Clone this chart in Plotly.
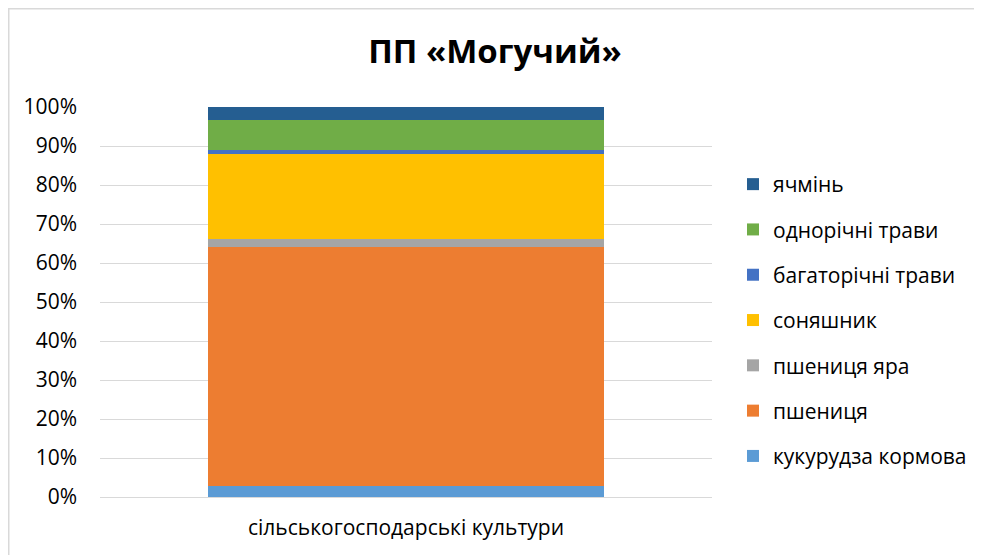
import plotly.graph_objects as go

categories = ["сільськогосподарські культури"]
series_names = ["кукурудза кормова", "пшениця", "пшениця яра", "соняшник",
                "багаторічні трави", "однорічні трави", "ячмінь"]
series_values = [2.8, 61.2, 2.1, 21.8, 1.0, 7.7, 3.4]
series_colors = ["#5B9BD5", "#ED7D31", "#A5A5A5", "#FFC000",
                 "#4472C4", "#70AD47", "#255E91"]
title_text = "ПП «Могучий»"

FONT = "Open Sans"
L, R, T, B = 92, 704, 99, 489
W, H = 982, 555
PW, PH = R - L, B - T

fig = go.Figure()
n = len(series_names)
for i, (name, val, col) in enumerate(zip(series_names, series_values, series_colors)):
    fig.add_trace(go.Bar(
        x=categories, y=[val], name=name, marker=dict(color=col, line=dict(width=0)),
        legendgroup=f"g{i}", legendrank=n - i,
    ))

fig.update_layout(
    barmode="stack", barnorm="fraction", bargap=0.353,
    width=W, height=H,
    margin=dict(l=L, r=W - R, t=T, b=H - B),
    paper_bgcolor="white", plot_bgcolor="white",
    font=dict(family=FONT, size=20, color="#000000"),
    title=dict(text=title_text, x=487 / W, xanchor="center",
               y=1 - 43 / H, yanchor="middle",
               font=dict(family=FONT, size=33, color="#000000", weight="bold")),
    legend=dict(x=(725 - L) / PW, xanchor="left", y=0.4526, yanchor="middle",
                traceorder="grouped", tracegroupgap=15,
                font=dict(family=FONT, size=21, color="#000000"),
                itemwidth=30, bgcolor="rgba(0,0,0,0)"),
    xaxis=dict(showgrid=False, showline=True, linecolor="#D9D9D9", linewidth=1,
               ticks="", ticklabelstandoff=12,
               tickfont=dict(family=FONT, size=21, color="#000000")),
    yaxis=dict(range=[0, 1], dtick=0.1, tickformat=".0%", showgrid=True,
               gridcolor="#D9D9D9", gridwidth=1, zeroline=False, ticks="",
               ticklabelstandoff=22,
               tickfont=dict(family=FONT, size=21, color="#000000")),
    shapes=[dict(type="rect", xref="paper", yref="paper",
                 x0=(0.75 - L) / PW, x1=1.6, y0=-0.3, y1=(B - 0.75) / PH,
                 line=dict(color="#D9D9D9", width=1.5), fillcolor="rgba(0,0,0,0)",
                 layer="below")],
)

fig.write_html("out.html")
